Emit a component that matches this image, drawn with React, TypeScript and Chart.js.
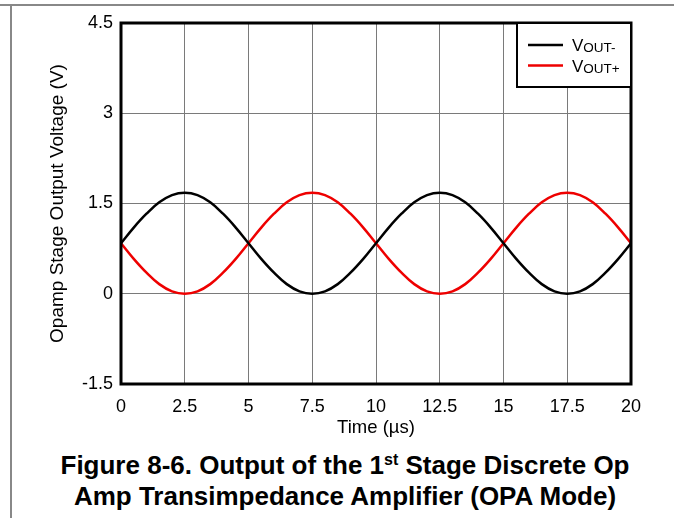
import React, { useEffect, useRef } from "react";
import { Chart, registerables } from "chart.js";

Chart.register(...registerables);

const timeUs = [
  0, 0.5, 1, 1.5, 2, 2.5, 3, 3.5, 4, 4.5, 5, 5.5, 6, 6.5, 7, 7.5, 8, 8.5, 9, 9.5,
  10, 10.5, 11, 11.5, 12, 12.5, 13, 13.5, 14, 14.5, 15, 15.5, 16, 16.5, 17, 17.5, 18, 18.5, 19, 19.5, 20,
];
const voutMinus = [
  0.84, 1.1, 1.33, 1.52, 1.64, 1.68, 1.64, 1.52, 1.33, 1.1, 0.84, 0.58, 0.35, 0.16, 0.04, 0.0, 0.04, 0.16, 0.35, 0.58,
  0.84, 1.1, 1.33, 1.52, 1.64, 1.68, 1.64, 1.52, 1.33, 1.1, 0.84, 0.58, 0.35, 0.16, 0.04, 0.0, 0.04, 0.16, 0.35, 0.58, 0.84,
];
const voutPlus = [
  0.84, 0.58, 0.35, 0.16, 0.04, 0.0, 0.04, 0.16, 0.35, 0.58, 0.84, 1.1, 1.33, 1.52, 1.64, 1.68, 1.64, 1.52, 1.33, 1.1,
  0.84, 0.58, 0.35, 0.16, 0.04, 0.0, 0.04, 0.16, 0.35, 0.58, 0.84, 1.1, 1.33, 1.52, 1.64, 1.68, 1.64, 1.52, 1.33, 1.1, 0.84,
];
const xTickValues = [0, 2.5, 5, 7.5, 10, 12.5, 15, 17.5, 20];
const xTickLabels = ["0", "2.5", "5", "7.5", "10", "12.5", "15", "17.5", "20"];
const yTickValues = [-1.5, 0, 1.5, 3, 4.5];
const yTickLabels = ["-1.5", "0", "1.5", "3", "4.5"];
const seriesNames = ["OUT-", "OUT+"];
const seriesColors = ["#000000", "#ee0000"];

const FONT = "'Liberation Sans', Arial, Helvetica, sans-serif";

const framePlugin = {
  id: "frameLegend",
  afterDatasetsDraw(chart: any) {
    const { ctx, chartArea } = chart;
    ctx.save();
    ctx.strokeStyle = "#000";
    ctx.lineWidth = 3;
    ctx.strokeRect(chartArea.left, chartArea.top, chartArea.right - chartArea.left, chartArea.bottom - chartArea.top);
    // legend box
    const bx = chartArea.right - 114;
    const by = chartArea.top;
    const bw = 114;
    const bh = 64;
    ctx.fillStyle = "#fff";
    ctx.fillRect(bx, by, bw, bh);
    ctx.lineWidth = 2;
    ctx.strokeRect(bx, by, bw, bh);
    seriesNames.forEach((name, i) => {
      const y = by + 22 + i * 20.5;
      ctx.strokeStyle = seriesColors[i];
      ctx.lineWidth = 2.5;
      ctx.beginPath();
      ctx.moveTo(bx + 11, y);
      ctx.lineTo(bx + 46, y);
      ctx.stroke();
      ctx.fillStyle = "#000";
      ctx.textBaseline = "alphabetic";
      ctx.textAlign = "left";
      ctx.font = `17px ${FONT}`;
      ctx.fillText("V", bx + 55, y + 6);
      const vw = ctx.measureText("V").width;
      ctx.font = `13.5px ${FONT}`;
      ctx.fillText(name, bx + 55 + vw, y + 7);
    });
    ctx.restore();
  },
};

export default function App() {
  const ref = useRef<HTMLCanvasElement>(null);
  useEffect(() => {
    if (!ref.current) return;
    const chart = new Chart(ref.current, {
      type: "line",
      data: {
        datasets: [
          {
            label: "VOUT-",
            data: timeUs.map((t, i) => ({ x: t, y: voutMinus[i] })),
            borderColor: seriesColors[0],
            borderWidth: 2.5,
            pointRadius: 0,
            tension: 0.4,
            fill: false,
          },
          {
            label: "VOUT+",
            data: timeUs.map((t, i) => ({ x: t, y: voutPlus[i] })),
            borderColor: seriesColors[1],
            borderWidth: 2.5,
            pointRadius: 0,
            tension: 0.4,
            fill: false,
          },
        ],
      },
      options: {
        animation: false,
        responsive: false,
        maintainAspectRatio: false,
        layout: { padding: { left: 0, right: 43, top: 23, bottom: 0 } },
        plugins: { legend: { display: false }, tooltip: { enabled: false } },
        scales: {
          x: {
            type: "linear",
            min: 0,
            max: 20,
            afterBuildTicks: (s: any) => {
              s.ticks = xTickValues.map((v) => ({ value: v }));
            },
            afterFit: (s: any) => {
              s.height = 56;
            },
            ticks: {
              color: "#000",
              font: { family: FONT, size: 18 },
              padding: 12,
              maxRotation: 0,
              autoSkip: false,
              callback: (v: any) => {
                const i = xTickValues.indexOf(Number(v));
                return i >= 0 ? xTickLabels[i] : "";
              },
            },
            grid: { color: "#7a7a7a", lineWidth: 1, drawTicks: false },
            border: { display: false },
            title: {
              display: true,
              text: "Time (µs)",
              color: "#000",
              font: { family: FONT, size: 18.5 },
              padding: { top: 0, bottom: 1 },
            },
          },
          y: {
            type: "linear",
            min: -1.5,
            max: 4.5,
            afterBuildTicks: (s: any) => {
              s.ticks = yTickValues.map((v) => ({ value: v }));
            },
            afterFit: (s: any) => {
              s.width = 121;
            },
            ticks: {
              color: "#000",
              font: { family: FONT, size: 18 },
              padding: 8,
              autoSkip: false,
              callback: (v: any) => {
                const i = yTickValues.indexOf(Number(v));
                return i >= 0 ? yTickLabels[i] : "";
              },
            },
            grid: { color: "#7a7a7a", lineWidth: 1, drawTicks: false },
            border: { display: false },
            title: {
              display: true,
              text: "Opamp Stage Output Voltage (V)",
              color: "#000",
              font: { family: FONT, size: 19 },
              padding: { top: 46, bottom: 0 },
            },
          },
        },
      },
      plugins: [framePlugin],
    } as any);
    return () => chart.destroy();
  }, []);

  return (
    <div style={{ position: "fixed", left: 0, top: 0, width: 674, height: 518, background: "#fff", overflow: "hidden" }}>
      <div style={{ position: "absolute", left: 0, top: 4, width: 674, height: 1.5, background: "#888" }} />
      <div style={{ position: "absolute", left: 10, top: 4, width: 1.5, height: 514, background: "#888" }} />
      <canvas ref={ref} width={674} height={440} style={{ position: "absolute", left: 0, top: 0, width: 674, height: 440 }} />
      <div
        style={{
          position: "absolute",
          left: 8,
          top: 450,
          width: 674,
          textAlign: "center",
          fontFamily: FONT,
          fontWeight: "bold",
          fontSize: 26,
          lineHeight: "31px",
          color: "#000",
          whiteSpace: "nowrap",
        }}
      >
        Figure 8-6. Output of the 1
        <sup style={{ fontSize: 16, lineHeight: 0, verticalAlign: "9px" }}>st</sup> Stage Discrete Op
        <br />
        Amp Transimpedance Amplifier (OPA Mode)
      </div>
    </div>
  );
}
